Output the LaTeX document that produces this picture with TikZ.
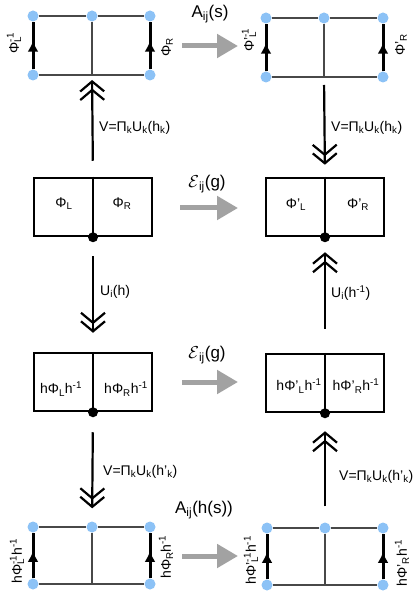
\documentclass[tikz,border=0pt]{standalone}
\usepackage{fontspec}
\setmainfont{Liberation Sans}
\usetikzlibrary{arrows.meta,decorations.markings}
\newcommand\sps[2]{\rlap{\textsubscript{#1}}\textsuperscript{#2}}
\newcommand\sbs[1]{\textsubscript{#1}}
\newcommand\spp[1]{\textsuperscript{#1}}
\definecolor{dotblue}{HTML}{8CC2F6}
\definecolor{arrgray}{HTML}{A2A2A2}
\definecolor{thinline}{HTML}{484848}
\newcommand\myribbon[6]{%
  \node[bluedot] (#1A) at (#2,#5) {};
  \node[bluedot] (#1B) at (#3,#5) {};
  \node[bluedot] (#1C) at (#4,#5) {};
  \node[bluedot] (#1D) at (#2,#6) {};
  \coordinate (#1E) at (#3,#6);
  \node[bluedot] (#1F) at (#4,#6) {};
  \draw[ribthin] (#1A) -- (#1B) -- (#1C);
  \draw[ribthin] (#1D) -- (#1E) -- (#1F);
  \draw[ribthin] (#1B) -- (#1E);
  \draw[ribthick] (#1D) -- (#1A);
  \draw[ribthick] (#1F) -- (#1C);
}
\begin{document}
\begin{tikzpicture}[x=1pt,y=-1pt,
  bluedot/.style={circle,fill=dotblue,inner sep=0pt,minimum size=11pt},
  blackdot/.style={circle,fill=black,inner sep=0pt,minimum size=10pt},
  ribthin/.style={draw=thinline,line width=1.2pt},
  ribthick/.style={draw=black,line width=3pt,postaction={decorate},
    decoration={markings,mark=at position 0.6 with {\arrow{Latex[length=11pt,width=11pt]}}}},
  cell/.style={draw,line width=2.5pt,minimum width=118pt,minimum height=58pt,inner sep=0pt},
  dbl/.style={line width=2.2pt,-{Straight Barb[length=10pt,width=24pt,line width=2.2pt,sep=-4pt] Straight Barb[length=10pt,width=24pt,line width=2.2pt,sep=-4pt]}},
  gar/.style={draw=arrgray,line width=5pt,-{Triangle[length=21pt,width=23pt]}},
  biglab/.style={font=\fontsize{17}{20}\selectfont,inner sep=0pt},
  midlab/.style={font=\fontsize{14}{16}\selectfont,inner sep=0pt},
  riblab/.style={font=\fontsize{14}{16}\selectfont,inner sep=0pt,rotate=90},
  arrlab/.style={font=\fontsize{14}{16}\selectfont,inner sep=0pt,anchor=west}]
\useasboundingbox (0,0) rectangle (416,593);
\fill[white] (0,0) rectangle (416,593);

% ribbons
\myribbon{tl}{33}{92}{150}{16}{75}
\myribbon{tr}{266}{324}{383}{18}{77}
\myribbon{bl}{33}{92}{150}{527}{584}
\myribbon{br}{267}{325}{383}{528}{585}

% ribbon labels
\node[riblab] (tlL) at (14,43) {Φ\sps{L}{-1}};
\node[riblab] (tlR) at (167,47) {Φ\sbs{R}};
\node[riblab] (trL) at (249,40) {Φ'\sps{L}{-1}};
\node[riblab] (trR) at (401,45) {Φ'\sbs{R}};
\node[riblab] (blL) at (17,561) {hΦ\sps{L}{-1}h\spp{-1}};
\node[riblab] (blR) at (166,557) {hΦ\sbs{R}h\spp{-1}};
\node[riblab] (brL) at (251,560) {hΦ'\sps{L}{-1}h\spp{-1}};
\node[riblab] (brR) at (402,563) {hΦ'\sbs{R}h\spp{-1}};

% boxes
\node[cell] (ml) at (93,207) {};
\node[cell] (mr) at (325,207) {};
\node[cell] (ll) at (93,382) {};
\node[cell] (lr) at (325,383) {};
\foreach \b in {ml,mr,ll,lr}{
  \draw[line width=2.5pt] (\b.north) -- (\b.south);
  \node[blackdot] (\b dot) at (\b.south) {};
}
\node[midlab] (mlL) at (64,204) {Φ\sbs{L}};
\node[midlab] (mlR) at (122,204) {Φ\sbs{R}};
\node[midlab] (mrL) at (296,205) {Φ'\sbs{L}};
\node[midlab] (mrR) at (358,205) {Φ'\sbs{R}};
\node[midlab] (llL) at (61,389) {hΦ\sbs{L}h\spp{-1}};
\node[midlab] (llR) at (126,389) {hΦ\sbs{R}h\spp{-1}};
\node[midlab] (lrL) at (299,386) {hΦ'\sbs{L}h\spp{-1}};
\node[midlab] (lrR) at (356,386) {hΦ'\sbs{R}h\spp{-1}};

% vertical double arrows
\draw[dbl,shorten <=16pt,shorten >=9pt] (ml.north) -- (tlE);
\draw[dbl,shorten <=8pt,shorten >=16pt] (trE) -- (mr.north);
\draw[dbl,shorten <=19pt,shorten >=23pt] (ml.south) -- (ll.north);
\draw[dbl,shorten <=24pt,shorten >=19pt] (lr.north) -- (mr.south);
\draw[dbl,shorten <=20pt,shorten >=17pt] (ll.south) -- (blB);
\draw[dbl,shorten <=16pt,shorten >=22pt] (brB) -- (lr.south);

\node[arrlab] (v1) at (99,128) {V=Π\sbs{k}U\sbs{k}(h\sbs{k})};
\node[arrlab] (v2) at (331,128) {V=Π\sbs{k}U\sbs{k}(h\sbs{k})};
\node[arrlab] (u1) at (100,292) {U\sbs{i}(h)};
\node[arrlab] (u2) at (331,293) {U\sbs{i}(h\spp{-1})};
\node[arrlab] (v3) at (103,472) {V=Π\sbs{k}U\sbs{k}(h'\sbs{k})};
\node[arrlab] (v4) at (339,477) {V=Π\sbs{k}U\sbs{k}(h'\sbs{k})};

% gray arrows
\coordinate (g1s) at (182,46); \coordinate (g1e) at (238,46);
\coordinate (g2s) at (180,208); \coordinate (g2e) at (238,208);
\coordinate (g3s) at (182,382); \coordinate (g3e) at (238,382);
\coordinate (g4s) at (182,556); \coordinate (g4e) at (238,556);
\draw[gar] (g1s) -- (g1e);
\draw[gar] (g2s) -- (g2e);
\draw[gar] (g3s) -- (g3e);
\draw[gar] (g4s) -- (g4e);
\node[biglab] (a1) at (210,14) {A\sbs{ij}(s)};
\node[biglab] (e1) at (207,184) {$\mathcal{E}$\sbs{ij}(g)};
\node[biglab] (e2) at (207,355) {$\mathcal{E}$\sbs{ij}(g)};
\node[biglab] (a2) at (204,510) {A\sbs{ij}(h(s))};
\end{tikzpicture}
\end{document}
